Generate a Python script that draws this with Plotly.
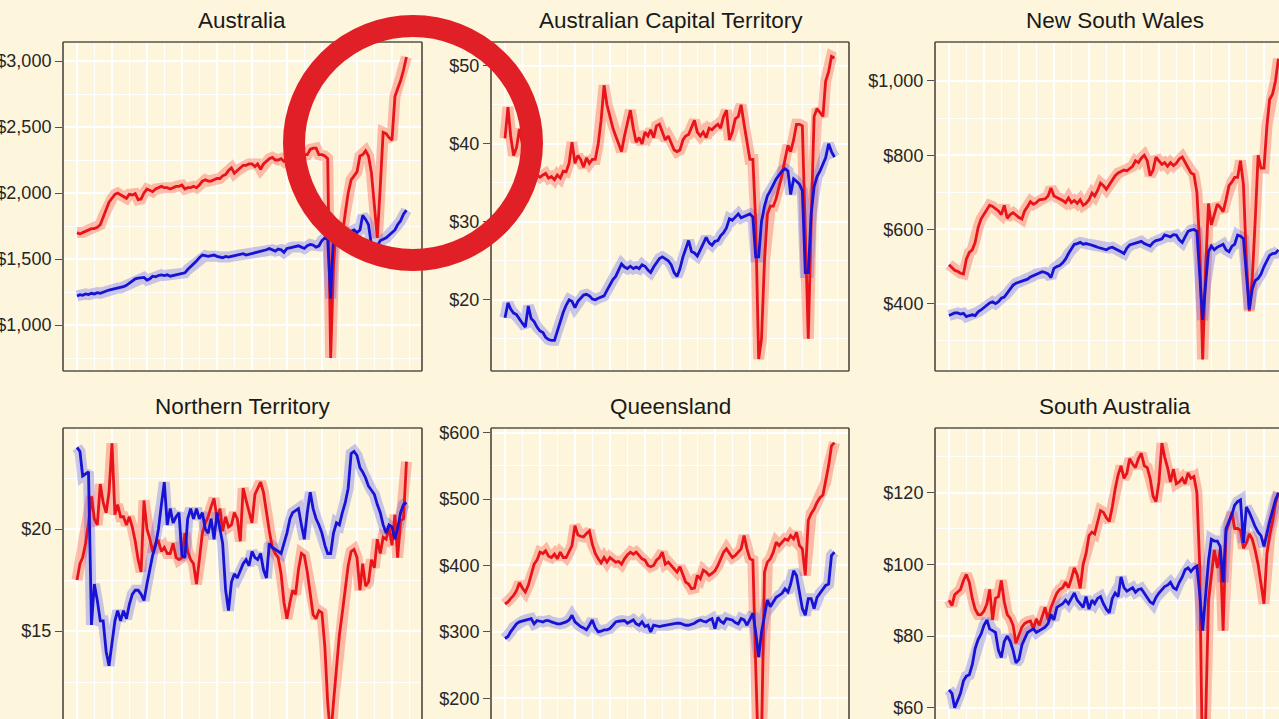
import pandas as pd
import plotly.graph_objects as go

# ---------------- data (monthly, Jan 2013 onward) ----------------
START = "2013-01-01"
MONTHS = pd.date_range(START, periods=114, freq="MS")

PANEL_TITLES = ["Australia", "Australian Capital Territory", "New South Wales",
                "Northern Territory", "Queensland", "South Australia"]

AUS_RED = [1700, 1690, 1700, 1710, 1720, 1730, 1730, 1740, 1760, 1820,
           1880, 1930, 1960, 1990, 2000, 1985, 1975, 1960, 1990, 1985,
           1995, 1950, 1955, 2000, 2030, 2020, 2010, 2030, 2040, 2050,
           2040, 2040, 2030, 2040, 2050, 2050, 2060, 2030, 2040, 2040,
           2050, 2040, 2060, 2090, 2100, 2090, 2090, 2100, 2110, 2110,
           2130, 2140, 2170, 2190, 2150, 2170, 2190, 2210, 2210, 2220,
           2220, 2200, 2220, 2180, 2220, 2240, 2260, 2270, 2250, 2250,
           2260, 2240, 2260, 2270, 2280, 2290, 2280, 2300, 2290, 2290,
           2330, 2340, 2340, 2290, 2290, 2280, 2260, 750, 1450, 1790,
           1720, 1680, 1850, 2000, 2100, 2130, 2160, 2280, 2290, 2320,
           2280, 2150, 1900, 1660, 2050, 2460, 2450, 2420, 2400, 2730,
           2790, 2850, 2930, 3030]
AUS_BLUE = [1220, 1230, 1225, 1235, 1230, 1240, 1235, 1245, 1240, 1250,
            1260, 1265, 1270, 1275, 1280, 1280, 1290, 1300, 1315, 1330,
            1350, 1355, 1360, 1360, 1340, 1350, 1370, 1365, 1375, 1380,
            1375, 1380, 1370, 1375, 1380, 1385, 1385, 1395, 1420, 1440,
            1460, 1485, 1510, 1530, 1525, 1520, 1525, 1530, 1520, 1515,
            1510, 1520, 1515, 1520, 1525, 1530, 1535, 1540, 1530, 1535,
            1540, 1545, 1550, 1555, 1560, 1570, 1580, 1570, 1560, 1575,
            1570, 1550, 1580, 1585, 1590, 1595, 1600, 1590, 1580, 1600,
            1610, 1605, 1590, 1600, 1640, 1660, 1650, 1200, 1700, 1680,
            1660, 1650, 1670, 1700, 1710, 1720, 1700, 1720, 1830, 1800,
            1760, 1600, 1560, 1600, 1640, 1650, 1660, 1680, 1700, 1720,
            1760, 1790, 1840, 1870]

ACT_RED = [40.7, 44.7, 41, 38.5, 39.5, 41.9, 40, 38, 37, 36.5,
           36, 36, 35.7, 36, 36.2, 35.6, 35.8, 35.4, 36, 35.6,
           36.5, 36.4, 37.5, 40.2, 37.5, 38.5, 38, 37, 38.2, 37.5,
           38, 38, 40, 43, 47.5, 45, 43.5, 42, 41, 40,
           39, 41, 42.5, 44.3, 42, 40.2, 40.8, 40, 41.5, 41,
           41.8, 40.8, 42.3, 42.5, 41.5, 40.5, 41, 40.2, 39.2, 39,
           39.2, 40.5, 41, 41.2, 42, 43, 41.5, 41, 41.5, 40.8,
           42, 41.8, 42.2, 42.5, 42, 43.5, 44.3, 40.5, 41.5, 43.2,
           43.5, 45, 42.5, 40, 38, 38, 30, 12.4, 15, 25,
           31, 32, 32, 33, 34.5, 36, 38, 39.8, 39, 40.5,
           42.5, 42.5, 42.3, 27, 15, 30, 43.5, 44.5, 44, 43.5,
           48, 49.2, 51.2, 51]
ACT_BLUE = [17.7, 19.6, 18.8, 18.3, 18.1, 17.5, 17, 16.5, 19.2, 17.6,
            17.2, 16.5, 16, 15.8, 15.2, 14.9, 14.8, 14.8, 16, 17.4,
            18.4, 19.3, 20, 19.8, 19, 19.8, 20.2, 20.6, 20.7, 20.5,
            20.1, 20, 20.2, 20.3, 20.5, 21.2, 22, 22.6, 23, 23.8,
            24.6, 24.2, 24, 24.3, 24, 24.2, 24, 24.5, 24.3, 23.8,
            23.5, 24.2, 24.8, 25.3, 25.5, 25.3, 25, 24.5, 23.5, 23,
            24, 25.5, 26.5, 27.6, 26.2, 26, 25.6, 26.3, 27.2, 28,
            27.3, 27, 27.5, 27.6, 28.2, 28.6, 29.2, 30.4, 30.2, 30.6,
            31, 30.5, 30.7, 30.8, 31, 30.6, 25.5, 25.5, 30, 32,
            33.3, 34, 34.8, 35.5, 36, 36.5, 36.8, 36.5, 33.5, 35.5,
            35.2, 34.8, 34, 23.5, 23.5, 31, 34.5, 35.8, 36.5, 37.5,
            38.2, 40, 39, 38.3]

NSW_RED = [505, 498, 490, 487, 482, 480, 520, 538, 545, 565,
           605, 628, 642, 655, 665, 662, 655, 650, 640, 665,
           630, 640, 645, 638, 632, 628, 650, 662, 675, 668,
           672, 680, 680, 682, 690, 712, 690, 686, 684, 678,
           672, 685, 672, 678, 670, 680, 665, 670, 680, 698,
           690, 705, 725, 718, 708, 720, 732, 745, 752, 755,
           760, 758, 765, 770, 785, 780, 792, 800, 785, 745,
           760, 795, 785, 775, 780, 770, 780, 772, 778, 790,
           795, 782, 765, 752, 748, 700, 560, 250, 490, 670,
           612, 640, 668, 660, 648, 680, 718, 728, 740, 740,
           785, 720, 520, 380, 470, 620, 800, 765, 765, 880,
           950, 965, 1000, 1060]
NSW_BLUE = [368, 372, 375, 375, 372, 374, 365, 368, 370, 368,
            378, 383, 390, 398, 402, 405, 400, 405, 415, 418,
            428, 438, 450, 455, 458, 460, 462, 466, 472, 475,
            480, 482, 486, 484, 480, 470, 495, 500, 503, 510,
            520, 535, 548, 560, 562, 565, 560, 562, 560, 558,
            555, 552, 550, 548, 545, 550, 552, 548, 545, 540,
            535, 550, 558, 560, 562, 565, 568, 562, 558, 555,
            565, 570, 572, 575, 585, 582, 580, 586, 585, 572,
            565, 580, 595, 598, 600, 595, 480, 356, 450, 540,
            555, 545, 552, 556, 560, 545, 540, 555, 560, 585,
            582, 575, 480, 385, 440, 462, 468, 480, 500, 515,
            530, 535, 536, 545]

NT_RED = [17.5, 18.3, 18.6, 19.3, 20.3, 21.6, 20.5, 20.2, 22.2, 21.3,
          20.8, 21.8, 24.2, 20.7, 21.2, 20.6, 20.6, 20.2, 20.6, 20.1,
          19.4, 18.5, 17.9, 21.4, 20, 19.5, 18.9, 19.3, 19.4, 18.9,
          19.1, 18.8, 18.8, 19.3, 18.6, 18.5, 18.6, 19.8, 18.9, 18.5,
          18.3, 17.3, 18.5, 19.8, 20.3, 20.6, 21.1, 21.5, 20.5, 21,
          19.9, 20.6, 20.1, 20.2, 20.8, 20.5, 19.4, 22, 21.4, 20.9,
          20.3, 21.7, 22, 22.3, 21.8, 20.8, 19.9, 19.1, 18.8, 18.6,
          17.8, 16.4, 15.6, 16.4, 17, 16.8, 18, 18.8, 18.7, 17.9,
          16.8, 15.8, 15.6, 16, 15.9, 14.2, 11.5, 9.8, 11.5, 13,
          14.8, 15.9, 17.1, 18.2, 18.9, 19, 18.6, 17, 18.3, 17.2,
          17.4, 18.5, 18.1, 19.5, 18.8, 19.6, 19.5, 20.1, 19.2, 20.7,
          18.6, 20.4, 20.5, 23.3]
NT_BLUE = [24, 23.8, 22.6, 22.7, 22.8, 15.3, 17.3, 16.5, 15.5, 15.5,
           14, 13.3, 14.5, 15.5, 16, 15.5, 16, 15.6, 16.3, 16.8,
           17, 17, 16.8, 16.5, 17.3, 18, 18.7, 19.2, 20, 21.2,
           22.3, 20.2, 21, 20.3, 20.6, 20.8, 18.7, 18.6, 20.5, 21,
           20.5, 21, 20.5, 20.8, 20, 19.8, 20.5, 19.5, 20.8, 20,
           19.3, 17, 16, 17.4, 17.8, 17.6, 18, 18.3, 18.5, 18.2,
           18.9, 18.6, 18.5, 18.8, 18, 17.6, 19.3, 19.1, 19, 18.9,
           18.8, 19.3, 19.8, 20.5, 20.8, 20.9, 21, 20.2, 19.5, 20.8,
           21.8, 21, 20.5, 20.2, 19.8, 19.2, 18.8, 18.8, 19.8, 20.3,
           20.2, 20.8, 21.3, 22, 23.7, 23.8, 23.6, 23, 22.8, 22.5,
           22.1, 21.9, 21.7, 21.2, 20.8, 20.2, 19.8, 20.2, 20.1, 19.5,
           20, 20.8, 21.2, 21.3]

QLD_RED = [342, 345, 350, 355, 362, 374, 366, 360, 370, 385,
           402, 408, 420, 418, 422, 414, 412, 417, 410, 420,
           412, 412, 420, 430, 460, 446, 444, 443, 448, 452,
           432, 418, 410, 404, 412, 405, 412, 408, 405, 406,
           402, 410, 416, 420, 417, 420, 415, 410, 408, 400,
           398, 400, 408, 412, 420, 402, 405, 400, 395, 390,
           398, 385, 375, 372, 365, 366, 385, 380, 393, 390,
           385, 388, 392, 400, 410, 420, 425, 418, 412, 415,
           420, 425, 445, 425, 410, 408, 250, 100, 140, 390,
           405, 410, 420, 435, 430, 435, 440, 438, 445, 440,
           450, 430, 425, 385, 468, 478, 485, 495, 502, 506,
           525, 550, 580, 585]
QLD_BLUE = [290, 293, 300, 307, 312, 315, 316, 318, 318, 320,
            312, 317, 316, 315, 317, 317, 315, 313, 312, 312,
            313, 315, 318, 325, 315, 311, 308, 306, 303, 310,
            318, 306, 300, 301, 303, 303, 305, 310, 315, 316,
            317, 317, 313, 315, 318, 312, 310, 315, 308, 310,
            300, 310, 309, 308, 309, 310, 310, 312, 313, 313,
            313, 311, 310, 310, 311, 313, 316, 318, 316, 315,
            318, 320, 305, 322, 316, 313, 320, 319, 318, 314,
            312, 320, 318, 310, 318, 328, 300, 262, 300, 325,
            348, 338, 345, 352, 355, 358, 365, 360, 372, 392,
            385, 360, 335, 325, 350, 350, 335, 352, 358, 363,
            370, 372, 415, 420]

SA_RED = [90, 88.5, 91.5, 92.3, 93, 95.5, 97.2, 95, 90.5, 87.5,
          86, 86, 87, 89, 93, 84.5, 90.5, 91, 95.5, 89.5,
          86, 85, 83, 78, 80.5, 82.5, 83.5, 84, 84.2, 82,
          84.8, 83, 85.5, 88, 84.5, 88, 90, 92, 93, 93.5,
          95, 93.5, 96, 99, 97, 93.3, 100, 103, 108, 109,
          108.5, 112, 115, 114.5, 113, 112, 116, 121, 125, 127.5,
          124, 125.5, 129.5, 128, 127, 129.5, 131, 127.5, 127, 124,
          119, 117.5, 123, 133.8, 130, 127, 123, 126.5, 122.5, 123,
          124, 122.5, 125.5, 124, 124.5, 120, 100, 40, 55, 90,
          97, 104, 99, 104, 81.5, 109, 111.5, 114.5, 110, 110,
          109.5, 104.5, 106, 108.5, 107, 104, 100, 95, 89, 103,
          108, 112, 117, 120]
SA_BLUE = [65, 64, 60, 62, 64, 67.5, 68.8, 69.2, 72, 76.5,
           79, 80.5, 83, 84.5, 82, 81.5, 81, 76, 74, 78.5,
           80, 78.5, 76, 72.5, 73.5, 77.5, 79, 81, 81.5, 82,
           81, 81.5, 82, 82.5, 83.5, 86, 84.5, 88, 88.5, 89,
           90, 89, 90.5, 92, 90, 89, 88, 91, 87.5, 90,
           89, 90.5, 91, 89, 87.5, 86.5, 90.5, 92, 91, 96.5,
           93.5, 92.5, 93, 93.5, 92.2, 93, 93.2, 92, 91, 89.5,
           89, 90.8, 92, 93, 93.8, 94.2, 95, 93.5, 93, 95,
           96.5, 98.5, 99, 98, 99, 99.5, 92, 81.5, 92, 101,
           107, 106.5, 106.5, 105, 95, 110, 112, 114, 116.5, 117.5,
           118, 106, 116, 114.5, 112.5, 110.5, 109, 108, 105, 109,
           112, 115, 118, 120]

Y_TICKS = [[1000, 1500, 2000, 2500, 3000], [20, 30, 40, 50], [400, 600, 800, 1000],
           [15, 20], [200, 300, 400, 500, 600], [60, 80, 100, 120]]
Y_MINOR = [[750, 1250, 1750, 2250, 2750], [15, 25, 35, 45], [300, 500, 700, 900],
           [12.5, 17.5, 22.5], [250, 350, 450, 550], [70, 90, 110, 130]]

REDS = [AUS_RED, ACT_RED, NSW_RED, NT_RED, QLD_RED, SA_RED]
BLUES = [AUS_BLUE, ACT_BLUE, NSW_BLUE, NT_BLUE, QLD_BLUE, SA_BLUE]

# ---------------- layout geometry (pixels) ----------------
W, H = 1279, 719
BG = "#fdf5dc"
PX_PER_MONTH = 35 / 12.0
COLS = [(63, 422, 77), (491, 849, 505), (935, 1279, 949)]  # left, right, first-data px
ROWS = [(42, 371), (428, 719)]
Y_RANGES = [(651.5, 3144), (10.87, 53.05), (218.6, 1105),
            (10.69, 24.95), (168.8, 607), (56.85, 138.05)]


def mdate(m):
    return pd.Timestamp(START) + pd.Timedelta(days=m * 30.4375)


def dollars(v):
    return "$" + format(v, ",")


fig = go.Figure()
layout = dict(width=W, height=H, margin=dict(l=0, r=0, t=0, b=0),
              paper_bgcolor=BG, plot_bgcolor=BG, showlegend=False,
              font=dict(family="Liberation Sans, Arial, sans-serif"))
shapes, annotations = [], []

for k in range(6):
    r, c = divmod(k, 3)
    n = k + 1
    sfx = "" if n == 1 else str(n)
    left, right, x0px = COLS[c]
    top, bot = ROWS[r]
    xr = [mdate(-(x0px - left) / PX_PER_MONTH), mdate((right - x0px) / PX_PER_MONTH)]
    layout["xaxis" + sfx] = dict(
        domain=[left / W, right / W], range=xr, type="date", anchor="y" + sfx,
        tick0=START, dtick="M12", showticklabels=False, ticks="",
        showgrid=True, gridcolor="white", gridwidth=1.5, zeroline=False, showline=False,
        minor=dict(tick0=START, dtick="M6", showgrid=True, gridcolor="white", gridwidth=0.7),
        fixedrange=True)
    layout["yaxis" + sfx] = dict(
        domain=[1 - bot / H, 1 - top / H], range=list(Y_RANGES[k]), anchor="x" + sfx,
        tickmode="array", tickvals=Y_TICKS[k], ticktext=[dollars(v) for v in Y_TICKS[k]],
        ticks="outside", ticklen=7, tickwidth=1.4, tickcolor="#55524a",
        tickfont=dict(size=18, color="#262626"),
        showgrid=True, gridcolor="white", gridwidth=1.5, zeroline=False, showline=False,
        minor=dict(tickvals=Y_MINOR[k], showgrid=True, gridcolor="white", gridwidth=0.7, ticks=""),
        automargin=False, fixedrange=True)

    xs, ys = "x" + sfx, "y" + sfx
    red, blue = REDS[k], BLUES[k]
    fig.add_trace(go.Scatter(x=MONTHS[:len(red)], y=red, mode="lines", xaxis=xs, yaxis=ys,
                             line=dict(color="rgba(250,80,65,0.36)", width=11), hoverinfo="skip"))
    fig.add_trace(go.Scatter(x=MONTHS[:len(blue)], y=blue, mode="lines", xaxis=xs, yaxis=ys,
                             line=dict(color="rgba(80,80,235,0.30)", width=11), hoverinfo="skip"))
    fig.add_trace(go.Scatter(x=MONTHS[:len(red)], y=red, mode="lines", xaxis=xs, yaxis=ys,
                             line=dict(color="#e8141a", width=2.8), name="red"))
    fig.add_trace(go.Scatter(x=MONTHS[:len(blue)], y=blue, mode="lines", xaxis=xs, yaxis=ys,
                             line=dict(color="#1712d4", width=2.8), name="blue"))

    # panel border (only the sides that fall inside the picture)
    bl = dict(color="#55524a", width=1.7)
    xd, yd = xs + " domain", ys + " domain"
    sides = [(0, 0, 0, 1), (0, 1, 1, 1)]
    if c < 2:
        sides.append((1, 0, 1, 1))
    if r == 0:
        sides.append((0, 0, 1, 0))
    for (a0, b0, a1, b1) in sides:
        shapes.append(dict(type="line", xref=xd, yref=yd, x0=a0, y0=b0, x1=a1, y1=b1,
                           line=bl, layer="above"))

    annotations.append(dict(text=PANEL_TITLES[k], xref="paper", yref="paper",
                            x=((left + left + 359) / 2) / W, y=1 - (top - 22) / H,
                            xanchor="center", yanchor="middle", showarrow=False,
                            font=dict(size=22.5, color="#1a1a1a")))

# red highlight ring
shapes.append(dict(type="circle", xref="paper", yref="paper",
                   x0=294 / W, x1=532 / W, y0=1 - 260 / H, y1=1 - 26 / H,
                   line=dict(color="#e11f26", width=22), layer="above"))

layout["shapes"] = shapes
layout["annotations"] = annotations
fig.update_layout(**layout)
fig.write_html("out.html", config={"displayModeBar": False},
               post_script="document.body.style.margin='0';document.body.style.overflow='hidden';")
